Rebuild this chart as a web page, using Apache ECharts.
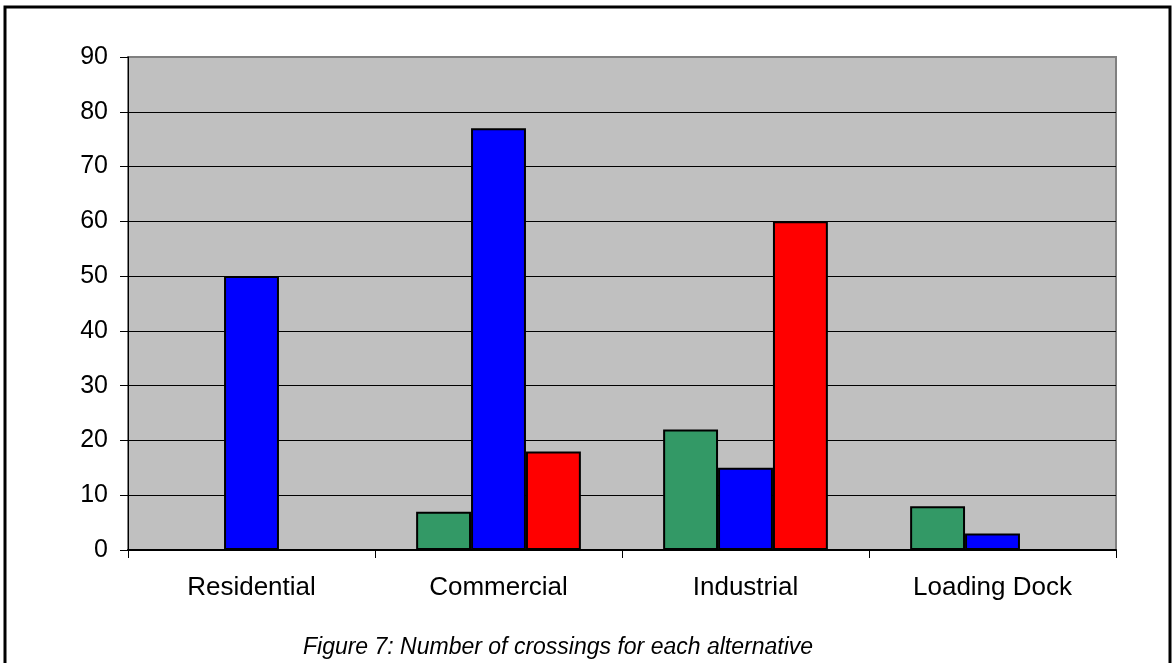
<!DOCTYPE html>
<html>
<head>
<meta charset="utf-8">
<title>Number of crossings for each alternative</title>
<script src="https://cdn.jsdelivr.net/npm/echarts@6/dist/echarts.min.js"></script>
<style>
  html, body { margin: 0; padding: 0; background: #ffffff; }
  #chart { width: 1172px; height: 663px; }
</style>
</head>
<body>
<div id="chart"></div>
<script>
// Alternatives along the x axis
const categories = ['Residential', 'Commercial', 'Industrial', 'Loading Dock'];

// Crossing counts per series (null = no bar)
const seriesGreen = [null, 7, 22, 8];
const seriesBlue = [50, 77, 15, 3];
const seriesRed = [null, 18, 60, null];

// Value axis range
const yMin = 0;
const yMax = 90;
const yStep = 10;

const captionText = 'Figure 7: Number of crossings for each alternative';

const FONT = '"Liberation Sans", Arial, Helvetica, sans-serif';

const chart = echarts.init(document.getElementById('chart'), null, { renderer: 'canvas' });

// grid lines: black, except the top one which is part of the gray plot frame
const nLines = Math.round((yMax - yMin) / yStep) + 1;
const gridColors = [];
for (let i = 0; i < nLines; i++) gridColors.push(i === nLines - 1 ? '#808080' : '#000000');

function barSeries(name, data, color) {
  return {
    name: name,
    type: 'bar',
    data: data,
    barGap: '0%',
    barCategoryGap: '33.3%',
    itemStyle: { color: color, borderColor: '#000000', borderWidth: 2 },
    emphasis: { disabled: true },
    animation: false
  };
}

chart.setOption({
  animation: false,
  backgroundColor: '#ffffff',
  grid: {
    left: 128, right: 56, top: 57, bottom: 113,
    show: true,
    backgroundColor: '#C0C0C0',
    borderColor: '#808080',
    borderWidth: 2
  },
  xAxis: {
    type: 'category',
    data: categories,
    axisLine: { show: true, lineStyle: { color: '#000000', width: 2 } },
    axisTick: { show: true, length: 8, alignWithLabel: false, lineStyle: { color: '#000000', width: 1 } },
    axisLabel: { color: '#000000', fontFamily: FONT, fontSize: 26, margin: 25 },
    splitLine: { show: false }
  },
  yAxis: {
    type: 'value',
    min: yMin, max: yMax, interval: yStep,
    axisLine: { show: true, lineStyle: { color: '#000000', width: 1 } },
    axisTick: { show: true, length: 8, lineStyle: { color: '#000000', width: 1 } },
    axisLabel: { color: '#000000', fontFamily: FONT, fontSize: 25, margin: 20 },
    splitLine: { show: true, lineStyle: { color: gridColors, width: 1 } }
  },
  series: [
    barSeries('Series 1', seriesGreen, '#339966'),
    barSeries('Series 2', seriesBlue, '#0000FF'),
    barSeries('Series 3', seriesRed, '#FF0000')
  ],
  graphic: [
    {
      type: 'rect',
      shape: { x: 5, y: 7, width: 1165, height: 700 },
      style: { fill: 'none', stroke: '#000000', lineWidth: 3 },
      silent: true,
      z: 100
    },
    {
      type: 'text',
      x: 558, y: 648,
      style: {
        text: captionText,
        fill: '#000000',
        font: 'italic 23px ' + FONT,
        textAlign: 'center',
        textVerticalAlign: 'middle'
      },
      silent: true,
      z: 100
    }
  ]
});
</script>
</body>
</html>
